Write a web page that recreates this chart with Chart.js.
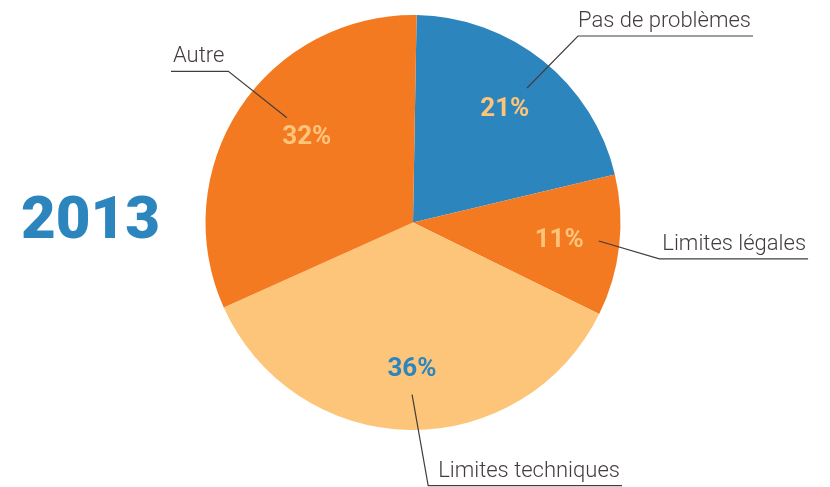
<!DOCTYPE html>
<html>
<head>
<meta charset="utf-8">
<script src="https://cdn.jsdelivr.net/npm/chart.js@4/dist/chart.umd.min.js"></script>
<style>
  body { margin: 0; background: #fff; }
  #wrap { width: 830px; height: 487px; position: relative; }
</style>
</head>
<body>
<div id="wrap"><canvas id="pie"></canvas></div>
<script>
// données du graphique
const categories = ['Pas de problèmes', 'Limites légales', 'Limites techniques', 'Autre'];
const shares = [21, 11, 36, 32];
const yearLabel = '2013';

const sliceColors = ['#2C86BD', '#F47A22', '#FDC57A', '#F47A22'];
const pctColors = ['#FDC57A', '#FDC57A', '#2C86BD', '#FDC57A'];
const lineColor = '#443C3C';

// placement des étiquettes (décalage d'angle en degrés, distance en fraction du rayon)
const pctPlace = [
    { da: 0.4, r: 0.70 },
    { da: 0.8, r: 0.71 },
    { da: -0.6, r: 0.71 },
    { da: 5.2, r: 0.655 }
];
const leaderPlace = [
    { da1: 1.5, r1: 0.85, da2: 2.7, r2: 1.2, side: 1, pad: 0 },
    { da1: -0.7, r1: 0.9, da2: 2.0, r2: 1.2, side: 1, pad: 3 },
    { da1: -0.7, r1: 0.83, da2: -4.3, r2: 1.27, side: 1, pad: 10 },
    { da1: 6.3, r1: 0.79, da2: 5.9, r2: 1.15, side: -1, pad: 4 }
];

const rad = d => d * Math.PI / 180;

// dessin des pourcentages, des traits de rappel et de l'année
const labelsPlugin = {
    id: 'labels',
    afterDatasetsDraw(chart) {
        const ctx = chart.ctx;
        const arcs = chart.getDatasetMeta(0).data;
        ctx.save();
        arcs.forEach((arc, i) => {
            const mid = (arc.startAngle + arc.endAngle) / 2;
            const R = arc.outerRadius;
            const pt = (da, f) => ({
                x: arc.x + Math.cos(mid + rad(da)) * R * f,
                y: arc.y + Math.sin(mid + rad(da)) * R * f
            });

            // pourcentage
            const p = pt(pctPlace[i].da, pctPlace[i].r);
            ctx.font = 'bold 26px Roboto';
            ctx.fillStyle = pctColors[i];
            ctx.textAlign = 'center';
            ctx.textBaseline = 'middle';
            ctx.fillText(shares[i] + '%', p.x, p.y);

            // trait de rappel
            const L = leaderPlace[i];
            const a = pt(L.da1, L.r1);
            const b = pt(L.da2, L.r2);
            ctx.font = '300 22px Roboto';
            const w = ctx.measureText(categories[i]).width;
            ctx.strokeStyle = lineColor;
            ctx.lineWidth = 1.2;
            ctx.beginPath();
            ctx.moveTo(a.x, a.y);
            ctx.lineTo(b.x, b.y);
            ctx.lineTo(b.x + L.side * (w + L.pad + 2), b.y);
            ctx.stroke();

            ctx.fillStyle = lineColor;
            ctx.textBaseline = 'alphabetic';
            ctx.textAlign = L.side > 0 ? 'left' : 'right';
            ctx.fillText(categories[i], b.x + L.side * L.pad, b.y - 9);
        });

        // année
        ctx.font = '900 60px Roboto';
        ctx.fillStyle = '#2C86BD';
        ctx.textAlign = 'left';
        ctx.textBaseline = 'middle';
        ctx.fillText(yearLabel, 21, arcs[0].y);
        ctx.restore();
    }
};

new Chart(document.getElementById('pie'), {
    type: 'pie',
    data: {
        labels: categories,
        datasets: [{
            data: shares,
            backgroundColor: sliceColors,
            borderWidth: 0
        }]
    },
    options: {
        responsive: true,
        maintainAspectRatio: false,
        animation: false,
        rotation: 1,
        layout: { padding: { top: 15, bottom: 57, left: 0, right: 4 } },
        plugins: {
            legend: { display: false },
            tooltip: { enabled: false }
        }
    },
    plugins: [labelsPlugin]
});
</script>
</body>
</html>
